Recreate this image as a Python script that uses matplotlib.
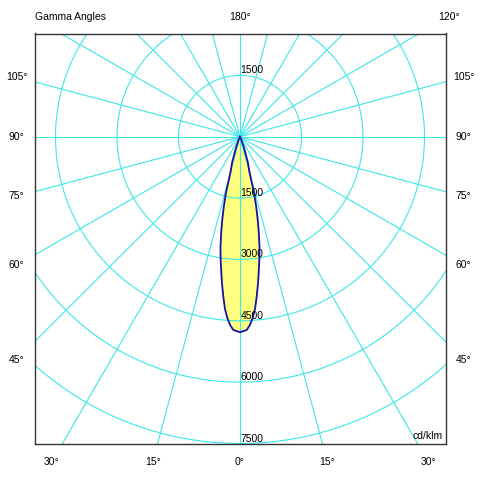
"""Polar candela diagram (cd/klm) redrawn with plain matplotlib axes."""

import numpy as np
import matplotlib

matplotlib.use("Agg")
import matplotlib.pyplot as plt

plt.rcParams["font.family"] = ["Liberation Sans", "DejaVu Sans"]

# Luminous intensity, gamma measured from the downward vertical (symmetric beam).
GAMMA = [0, 2, 3, 4, 5, 6, 7, 8, 9, 10, 11, 12, 13, 14, 15, 17, 20, 25, 30, 40, 90]
INTENSITY = [4780, 4725, 4610, 4440, 4220, 3915, 3605, 3300, 3020, 2740, 2410,
             2090, 1760, 1430, 880, 660, 280, 60, 15, 0, 0]

RINGS = [1500, 3000, 4500, 6000, 7500]
SIDE_LABELS = [105, 90, 75, 60, 45]
BOTTOM_LABELS = [-30, -15, 0, 15, 30]
TOP_LABELS = [180, 120]

GRID = "#3fe6e6"
CURVE = "#1414a0"
FILL = "#ffff80"
FRAME = "#333333"
FS = 7.5

PX = 1500 / 61.5  # data units per pixel

fig = plt.figure(figsize=(4.8, 4.8), dpi=100)
ax = fig.add_axes([34.5 / 480, 36.5 / 480, 411 / 480, 410 / 480])
ax.set_xlim(-205.5 * PX, 205.5 * PX)
ax.set_ylim(7500, -103.5 * PX)  # y grows downwards
ax.set_xticks([])
ax.set_yticks([])
for spine in ax.spines.values():
    spine.set_color(FRAME)
    spine.set_linewidth(1.0)

# beam shape, mirrored about the vertical
g = np.radians(GAMMA)
r = np.array(INTENSITY, dtype=float)
ang = np.concatenate([-g[::-1], g[1:]])
rad = np.concatenate([r[::-1], r[1:]])
xs = rad * np.sin(ang)
ys = rad * np.cos(ang)
ax.fill(xs, ys, color=FILL, zorder=1, lw=0)

# grid: rings and radial lines every 15 degrees
t = np.linspace(0, 2 * np.pi, 721)
for ring in RINGS:
    ax.plot(ring * np.sin(t), ring * np.cos(t), color=GRID, lw=0.8, zorder=2)
for deg in range(0, 360, 15):
    a = np.radians(deg)
    ax.plot([0, 20000 * np.sin(a)], [0, 20000 * np.cos(a)], color=GRID, lw=0.8, zorder=2)

ax.plot(xs, ys, color=CURVE, lw=1.3, zorder=3)

# ring values along the vertical
for ring in RINGS:
    ax.text(15, ring, str(ring), ha="left", va="bottom", fontsize=FS, zorder=4)
ax.text(15, -RINGS[0], str(RINGS[0]), ha="left", va="bottom", fontsize=FS, zorder=4)
ax.text(203 * PX, 7500 - 3 * PX, "cd/klm", ha="right", va="bottom", fontsize=FS, zorder=4)

# angle labels outside the frame
side = 223.5 * PX
for deg in SIDE_LABELS:
    a = np.radians(deg)
    y = side * np.cos(a) / np.sin(a)
    for sx in (-1, 1):
        ax.text(sx * side, y, f"{deg}°", ha="center", va="center", fontsize=FS, clip_on=False)

below = 326 * PX
for deg in BOTTOM_LABELS:
    x = below * np.tan(np.radians(deg))
    ax.text(x, below, f"{abs(deg)}°", ha="center", va="center", fontsize=FS, clip_on=False)

above = 120.5 * PX
for deg in TOP_LABELS:
    x = -above * np.tan(np.radians(deg))
    ax.text(x, -above, f"{deg}°", ha="center", va="center", fontsize=FS, clip_on=False)

ax.text(-205 * PX, -above, "Gamma Angles", ha="left", va="center", fontsize=FS, clip_on=False)

fig.savefig("out.png", dpi=100, facecolor="white")
